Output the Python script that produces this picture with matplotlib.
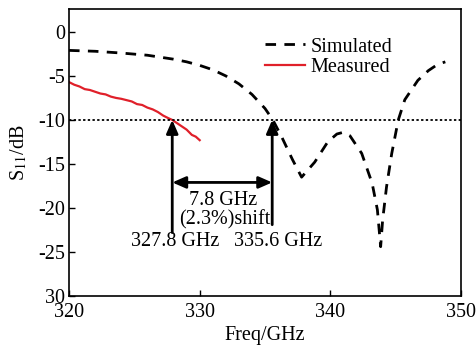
import matplotlib
matplotlib.use("Agg")
import matplotlib.pyplot as plt

plt.rcParams['font.family'] = ['Liberation Serif', 'DejaVu Serif']
plt.rcParams['mathtext.fontset'] = 'stix'

sim_x = [320, 322, 324, 326, 328, 329, 330, 331, 332, 333, 334, 335, 335.6, 336.3,
         337.1, 337.8, 338.8, 339.8, 340.5, 341.0, 341.5, 342.4, 343.2, 343.6, 343.85,
         344.0, 344.3, 344.7, 345.2, 345.7, 346.7, 347.5, 348.2, 348.8]
sim_y = [-2.1, -2.2, -2.4, -2.65, -3.1, -3.4, -3.8, -4.3, -5.0, -5.9, -7.1, -8.7, -10.0,
         -12.0, -14.5, -16.5, -14.8, -12.5, -11.6, -11.4, -11.8, -13.8, -17.2, -20.2,
         -24.4, -21.4, -17.6, -13.8, -10.0, -7.7, -5.5, -4.4, -3.7, -3.4]

meas_x = [320.0, 320.4, 320.8, 321.2, 321.6, 322.0, 322.4, 322.8, 323.2, 323.6, 324.0,
          324.4, 324.8, 325.2, 325.6, 326.0, 326.4, 326.8, 327.2, 327.6, 327.9, 328.2,
          328.6, 329.0, 329.4, 329.7, 330.0]
meas_y = [-5.7, -6.0, -6.2, -6.5, -6.6, -6.8, -7.0, -7.1, -7.35, -7.5, -7.6, -7.75,
          -7.9, -8.2, -8.3, -8.6, -8.8, -9.1, -9.5, -9.8, -10.0, -10.3, -10.7, -11.1,
          -11.7, -11.9, -12.3]

threshold = -10
f_meas = 327.9
f_sim = 335.55

yticks = [-30, -25, -20, -15, -10, -5, 0]
ytick_labels = ['30', '-25', '-20', '-15', '-10', '-5', '0']
xticks = [320, 330, 340, 350]

FS = 14.5

fig = plt.figure(figsize=(4.76, 3.47), dpi=100)
ax = fig.add_axes([0.145, 0.147, 0.8235, 0.827])

ax.plot(sim_x, sim_y, color='black', lw=2, linestyle=(0, (3.8, 3.0)), label='Simulated')
ax.plot(meas_x, meas_y, color='#e0202a', lw=1.6, label='Measured')
ax.plot([320, 350], [threshold, threshold], color='black', lw=1.3, linestyle=(0, (1.3, 1.3)))

akw = dict(arrowstyle='-|>,head_width=0.35,head_length=0.8', color='black', lw=2,
           shrinkA=0, shrinkB=0)
ax.annotate('', xy=(f_meas, threshold), xytext=(f_meas, -22.8), arrowprops=akw)
ax.annotate('', xy=(f_sim, threshold), xytext=(f_sim, -21.9), arrowprops=akw)
akw2 = dict(arrowstyle='<|-|>,head_width=0.35,head_length=0.8', color='black', lw=2,
            shrinkA=0, shrinkB=0)
ax.annotate('', xy=(f_meas, -17.1), xytext=(f_sim, -17.1), arrowprops=akw2)

ax.text(331.8, -19.1, '7.8 GHz', ha='center', va='center', fontsize=FS)
ax.text(331.9, -21.3, '(2.3%)shift', ha='center', va='center', fontsize=FS)
ax.text(328.1, -23.85, '327.8 GHz', ha='center', va='center', fontsize=FS)
ax.text(336.0, -23.85, '335.6 GHz', ha='center', va='center', fontsize=FS)

ax.set_xlim(320, 350)
ax.set_ylim(-30, 2.6)
ax.set_xticks(xticks)
ax.set_yticks(yticks)
ax.set_yticklabels(ytick_labels)
ax.tick_params(direction='in', labelsize=FS, length=4, width=1)
ax.tick_params(axis='x', pad=5)
ax.tick_params(axis='y', pad=3)
for s in ax.spines.values():
    s.set_linewidth(1.2)

ax.set_xlabel('Freq/GHz', fontsize=FS, labelpad=3)
ax.set_ylabel('S$_{11}$/dB', fontsize=FS, labelpad=6)

ax.legend(loc='upper left', frameon=False, fontsize=FS, handlelength=2.0,
          handletextpad=0.25, labelspacing=0.05, bbox_to_anchor=(0.49, 0.915),
          borderaxespad=0, borderpad=0.2)

fig.savefig('out.png', dpi=100)
